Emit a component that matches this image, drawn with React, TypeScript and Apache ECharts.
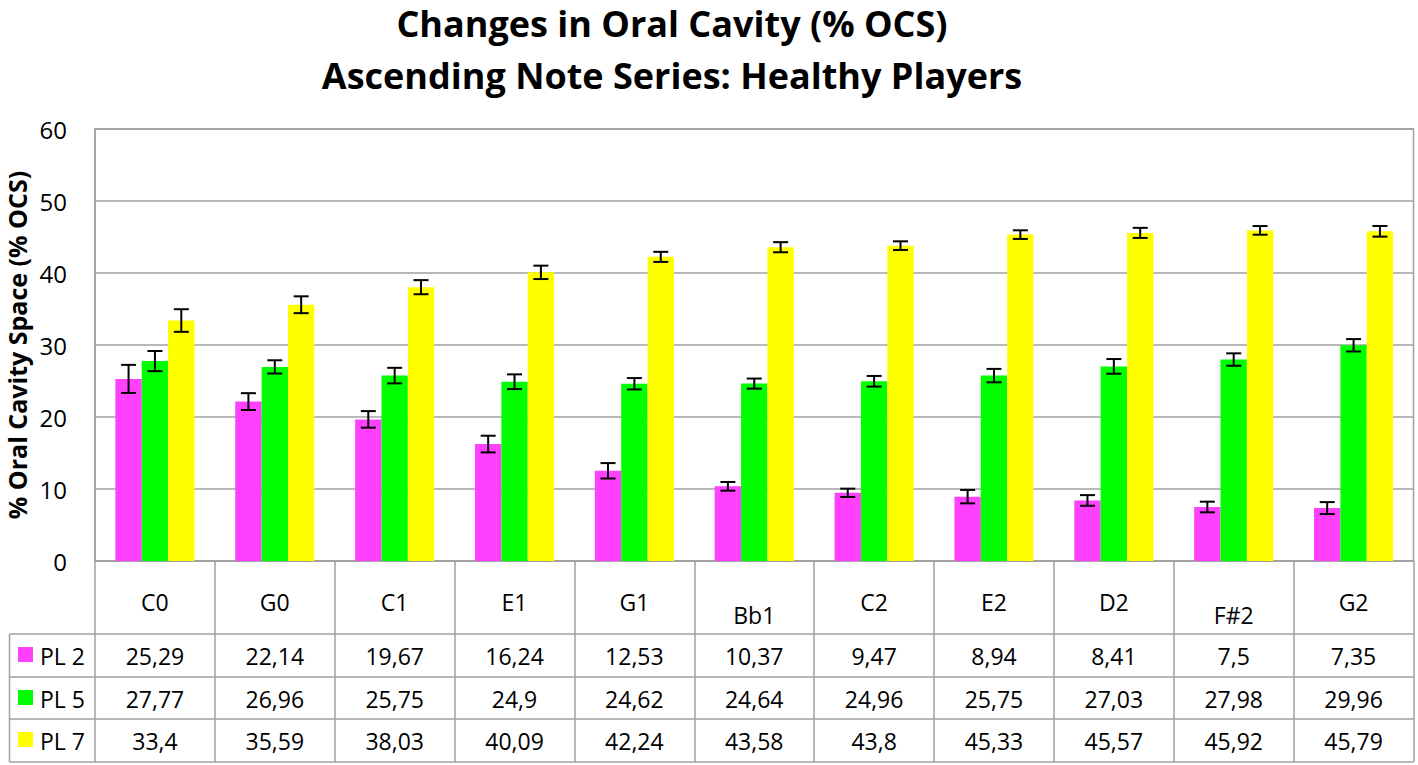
import React, { useEffect, useRef } from 'react';
import * as echarts from 'echarts';

const categories = ['C0', 'G0', 'C1', 'E1', 'G1', 'Bb1', 'C2', 'E2', 'D2', 'F#2', 'G2'];
const loweredLabels = ['Bb1', 'F#2'];
const seriesNames = ['PL 2', 'PL 5', 'PL 7'];
const seriesColors = ['#ff40ff', '#00ff00', '#ffff00'];
const pl2 = [25.29, 22.14, 19.67, 16.24, 12.53, 10.37, 9.47, 8.94, 8.41, 7.5, 7.35];
const pl5 = [27.77, 26.96, 25.75, 24.9, 24.62, 24.64, 24.96, 25.75, 27.03, 27.98, 29.96];
const pl7 = [33.4, 35.59, 38.03, 40.09, 42.24, 43.58, 43.8, 45.33, 45.57, 45.92, 45.79];
const pl2Err = [1.95, 1.17, 1.15, 1.16, 1.07, 0.6, 0.58, 0.93, 0.74, 0.74, 0.83];
const pl5Err = [1.4, 0.92, 1.08, 1.02, 0.79, 0.7, 0.74, 0.93, 1.02, 0.86, 0.86];
const pl7Err = [1.57, 1.17, 0.98, 0.93, 0.7, 0.7, 0.6, 0.6, 0.7, 0.6, 0.74];
const yMin = 0;
const yMax = 60;
const yInterval = 10;
const titleLines = ['Changes in Oral Cavity (% OCS)', 'Ascending Note Series: Healthy Players'];
const yAxisName = '% Oral Cavity Space (% OCS)';

const FONT = '"Open Sans", "DejaVu Sans", sans-serif';
const GRAY = '#a0a0a0';

export default function App() {
  const ref = useRef<HTMLDivElement>(null);

  useEffect(() => {
    const chart = echarts.init(ref.current!, null, { renderer: 'svg' });

    const means = [pl2, pl5, pl7];
    const errs = [pl2Err, pl5Err, pl7Err];

    const gridLeft = 95;
    const gridTop = 129;
    const gridWidth = 1318.5;
    const gridHeight = 432;
    const gridBottom = gridTop + gridHeight; // 561
    const gridRight = gridLeft + gridWidth;
    const tableLeft = 9.5;
    const rowLines = [634, 677, 719, 762];
    const rowCenters = [656, 699, 741];
    const headerCenter = 601.5;
    const loweredCenter = 614.5;
    const gapRatio = 0.34;

    const errData: any[] = [];
    means.forEach((arr, s) => {
      arr.forEach((v, i) => {
        errData.push([i, s, v, errs[s][i]]);
      });
    });

    const labelStyle = {
      interval: 0,
      margin: 0,
      verticalAlign: 'middle',
      color: '#000',
      fontFamily: FONT,
      fontSize: 23,
      hideOverlap: false,
    };

    const hiddenAxisParts = {
      axisLine: { show: false },
      axisTick: { show: false },
      splitLine: { show: false },
    };

    const valueAxes = means.map((arr, s) => ({
      type: 'category',
      gridIndex: 0,
      position: 'bottom',
      offset: rowCenters[s] - gridBottom,
      data: categories,
      ...hiddenAxisParts,
      axisLabel: {
        ...labelStyle,
        formatter: (_v: string, idx: number) => String(arr[idx]).replace('.', ','),
      },
    }));

    const loweredAxis = {
      type: 'category',
      gridIndex: 0,
      position: 'bottom',
      offset: loweredCenter - gridBottom,
      data: categories,
      ...hiddenAxisParts,
      axisLabel: {
        ...labelStyle,
        formatter: (v: string) => (loweredLabels.includes(v) ? v : ''),
      },
    };

    const graphics: any[] = [];
    titleLines.forEach((t, i) => {
      graphics.push({
        type: 'text',
        x: 672,
        y: i === 0 ? 23.5 : 75,
        style: {
          text: t,
          fill: '#000',
          font: `bold 36px ${FONT}`,
          textAlign: 'center',
          textVerticalAlign: 'middle',
        },
      });
    });
    graphics.push({
      type: 'text',
      x: 16.5,
      y: (gridTop + gridBottom) / 2,
      rotation: Math.PI / 2,
      style: {
        text: yAxisName,
        fill: '#000',
        font: `bold 25px ${FONT}`,
        textAlign: 'center',
        textVerticalAlign: 'middle',
      },
    });
    rowLines.forEach((y) => {
      graphics.push({
        type: 'line',
        shape: { x1: tableLeft, y1: y, x2: gridRight, y2: y },
        style: { stroke: GRAY, lineWidth: 1.5 },
      });
    });
    graphics.push({
      type: 'line',
      shape: { x1: tableLeft, y1: rowLines[0], x2: tableLeft, y2: rowLines[rowLines.length - 1] },
      style: { stroke: GRAY, lineWidth: 1.5 },
    });
    seriesNames.forEach((n, s) => {
      graphics.push({
        type: 'rect',
        shape: { x: 18, y: rowCenters[s] - 9, width: 15, height: 15 },
        style: { fill: seriesColors[s] },
      });
      graphics.push({
        type: 'text',
        x: 40,
        y: rowCenters[s],
        style: {
          text: n,
          fill: '#000',
          font: `23px ${FONT}`,
          textAlign: 'left',
          textVerticalAlign: 'middle',
        },
      });
    });

    const option: any = {
      animation: false,
      backgroundColor: '#fff',
      grid: {
        left: gridLeft,
        top: gridTop,
        width: gridWidth,
        height: gridHeight,
        show: true,
        borderColor: GRAY,
        borderWidth: 1.5,
      },
      xAxis: [
        {
          type: 'category',
          gridIndex: 0,
          position: 'bottom',
          data: categories,
          axisLine: { show: true, lineStyle: { color: GRAY, width: 1.5 } },
          axisTick: {
            show: true,
            length: rowLines[rowLines.length - 1] - gridBottom,
            lineStyle: { color: GRAY, width: 1.5 },
          },
          splitLine: { show: false },
          axisLabel: {
            ...labelStyle,
            margin: headerCenter - gridBottom,
            formatter: (v: string) => (loweredLabels.includes(v) ? '' : v),
          },
        },
        loweredAxis,
        ...valueAxes,
      ],
      yAxis: {
        type: 'value',
        min: yMin,
        max: yMax,
        interval: yInterval,
        axisLine: { show: true, lineStyle: { color: GRAY, width: 1.5 } },
        axisTick: { show: false },
        splitLine: { show: true, lineStyle: { color: GRAY, width: 1.5 } },
        axisLabel: {
          margin: 28,
          color: '#000',
          fontFamily: FONT,
          fontSize: 24,
        },
      },
      series: [
        ...means.map((arr, s) => ({
          type: 'bar',
          name: seriesNames[s],
          data: arr,
          xAxisIndex: 0,
          yAxisIndex: 0,
          barGap: '0%',
          barCategoryGap: `${gapRatio * 100}%`,
          itemStyle: { color: seriesColors[s] },
        })),
        {
          type: 'custom',
          name: 'error',
          xAxisIndex: 0,
          yAxisIndex: 0,
          z: 10,
          data: errData,
          encode: { x: 0, y: 2 },
          renderItem: (params: any, api: any) => {
            const cat = api.value(0);
            const s = api.value(1);
            const m = api.value(2);
            const e = api.value(3);
            const band = api.size([1, 0])[0];
            const barW = (band * (1 - gapRatio)) / 3;
            const c = api.coord([cat, m]);
            const x = c[0] + (s - 1) * barW;
            const yTop = api.coord([cat, m + e])[1];
            const yBot = api.coord([cat, m - e])[1];
            const cap = 7.5;
            const st = { stroke: '#000', lineWidth: 2 };
            return {
              type: 'group',
              children: [
                { type: 'line', shape: { x1: x, y1: yTop, x2: x, y2: yBot }, style: st },
                { type: 'line', shape: { x1: x - cap, y1: yTop, x2: x + cap, y2: yTop }, style: st },
                { type: 'line', shape: { x1: x - cap, y1: yBot, x2: x + cap, y2: yBot }, style: st },
              ],
            };
          },
        },
      ],
      graphic: graphics,
    };

    chart.setOption(option);
    return () => chart.dispose();
  }, []);

  return (
    <div
      ref={ref}
      style={{ position: 'absolute', left: 0, top: 0, width: 1418, height: 765 }}
    />
  );
}
